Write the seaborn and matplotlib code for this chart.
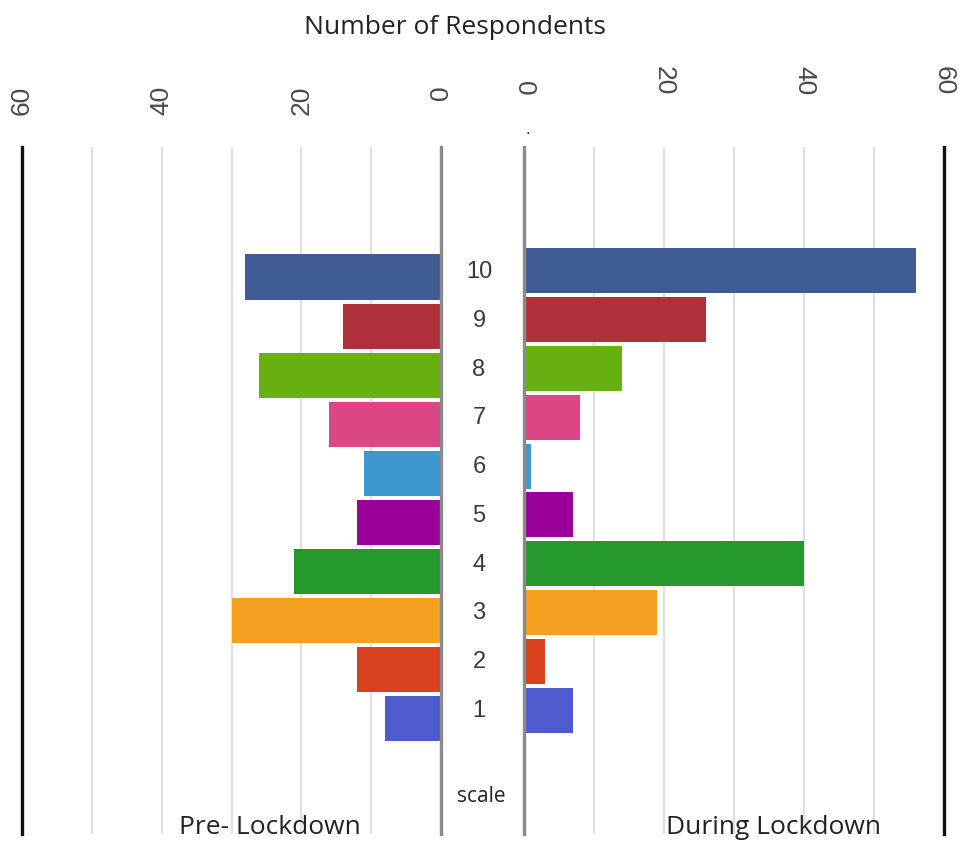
import matplotlib
matplotlib.use("Agg")
import matplotlib.pyplot as plt
import matplotlib.transforms as mtransforms
import numpy as np
import pandas as pd
import seaborn as sns

# Happiness scale (top to bottom) and respondent counts
scale_labels = ["10", "9", "8", "7", "6", "5", "4", "3", "2", "1"]
pre_lockdown = [28, 14, 26, 16, 11, 12, 21, 30, 12, 8]
during_lockdown = [56, 26, 14, 8, 1, 7, 40, 19, 3, 7]
bar_colors = ["#3f5c94", "#b0303a", "#66b10f", "#dc4685", "#3e98cf",
              "#980098", "#22992a", "#f4a11f", "#d8401e", "#4d5bcd"]
major_ticks = [0, 20, 40, 60]
minor_ticks = [10, 30, 50]
tick_text = ["0", "20", "40", "60"]

df = pd.DataFrame({"scale": scale_labels,
                   "pre": pre_lockdown,
                   "during": during_lockdown})
palette = dict(zip(scale_labels, bar_colors))

sns.set_theme(style="white")
plt.rcParams["font.family"] = ["Liberation Sans", "DejaVu Sans"]

W, H = 966, 845
fig = plt.figure(figsize=(W / 100, H / 100), dpi=100)
fig.patch.set_facecolor("white")

top_px, bot_px = 148, 835
def px_rect(x0, x1):
    return [x0 / W, 1 - bot_px / H, (x1 - x0) / W, (bot_px - top_px) / H]

ax_l = fig.add_axes(px_rect(22, 441))
ax_r = fig.add_axes(px_rect(524, 944))

sns.barplot(data=df, y="scale", x="pre", hue="scale", order=scale_labels,
            palette=palette, legend=False, ax=ax_l, width=0.92,
            saturation=1, linewidth=0, orient="h")
sns.barplot(data=df, y="scale", x="during", hue="scale", order=scale_labels,
            palette=palette, legend=False, ax=ax_r, width=0.92,
            saturation=1, linewidth=0, orient="h")

ax_l.set_xlim(60, 0)
ax_r.set_xlim(0, 60)
ax_l.set_ylim(11.35, -2.65)
ax_r.set_ylim(11.54, -2.54)

grid_color = "#e0e0e0"
for ax, outer_side, inner_side, rot, va, pad in (
        (ax_l, "left", "right", 90, "top", 45),
        (ax_r, "right", "left", -90, "bottom", 38)):
    ax.set_xlabel("")
    ax.set_ylabel("")
    ax.set_yticks([])
    ax.xaxis.tick_top()
    ax.set_xticks(major_ticks)
    ax.set_xticks(minor_ticks, minor=True)
    ax.set_xticklabels(tick_text, rotation=rot, va=va,
                       fontsize=19, color="#4a4a4a")
    ax.tick_params(axis="x", which="both", length=0, pad=pad)
    ax.grid(axis="x", which="both", color=grid_color, linewidth=1.6)
    ax.set_axisbelow(True)
    ax.spines["top"].set_visible(False)
    ax.spines["bottom"].set_visible(False)
    ax.spines[outer_side].set_color("#111111")
    ax.spines[outer_side].set_linewidth(2.4)
    ax.spines[inner_side].set_color("#8a8a8a")
    ax.spines[inner_side].set_linewidth(2.4)
    ax.spines[inner_side].set_zorder(5)
    ax.patch.set_alpha(0)

# Scale numbers between the two panels
trans = mtransforms.blended_transform_factory(fig.transFigure, ax_r.transData)
for i, lab in enumerate(scale_labels):
    fig.text(479 / W, i, lab, transform=trans, ha="center", va="center",
             fontsize=17, color="#3a3a3a")

label_font = ["Open Sans", "DejaVu Sans"]
fig.text(455 / W, 1 - 27 / H, "Number of Respondents", ha="center",
         va="center", fontsize=19, color="#222222", family=label_font)
fig.text(270 / W, 1 - 828 / H, "Pre- Lockdown", ha="center", va="center",
         fontsize=19, color="#222222", family=label_font)
fig.text(774 / W, 1 - 828 / H, "During Lockdown", ha="center", va="center",
         fontsize=19, color="#222222", family=label_font)
fig.text(481 / W, 1 - 797 / H, "scale", ha="center", va="center",
         fontsize=15, color="#222222", family=label_font)
fig.text(528 / W, 1 - 130 / H, ".", ha="center", va="center",
         fontsize=12, color="#222222")

fig.savefig("out.png", dpi=100, facecolor="white")
